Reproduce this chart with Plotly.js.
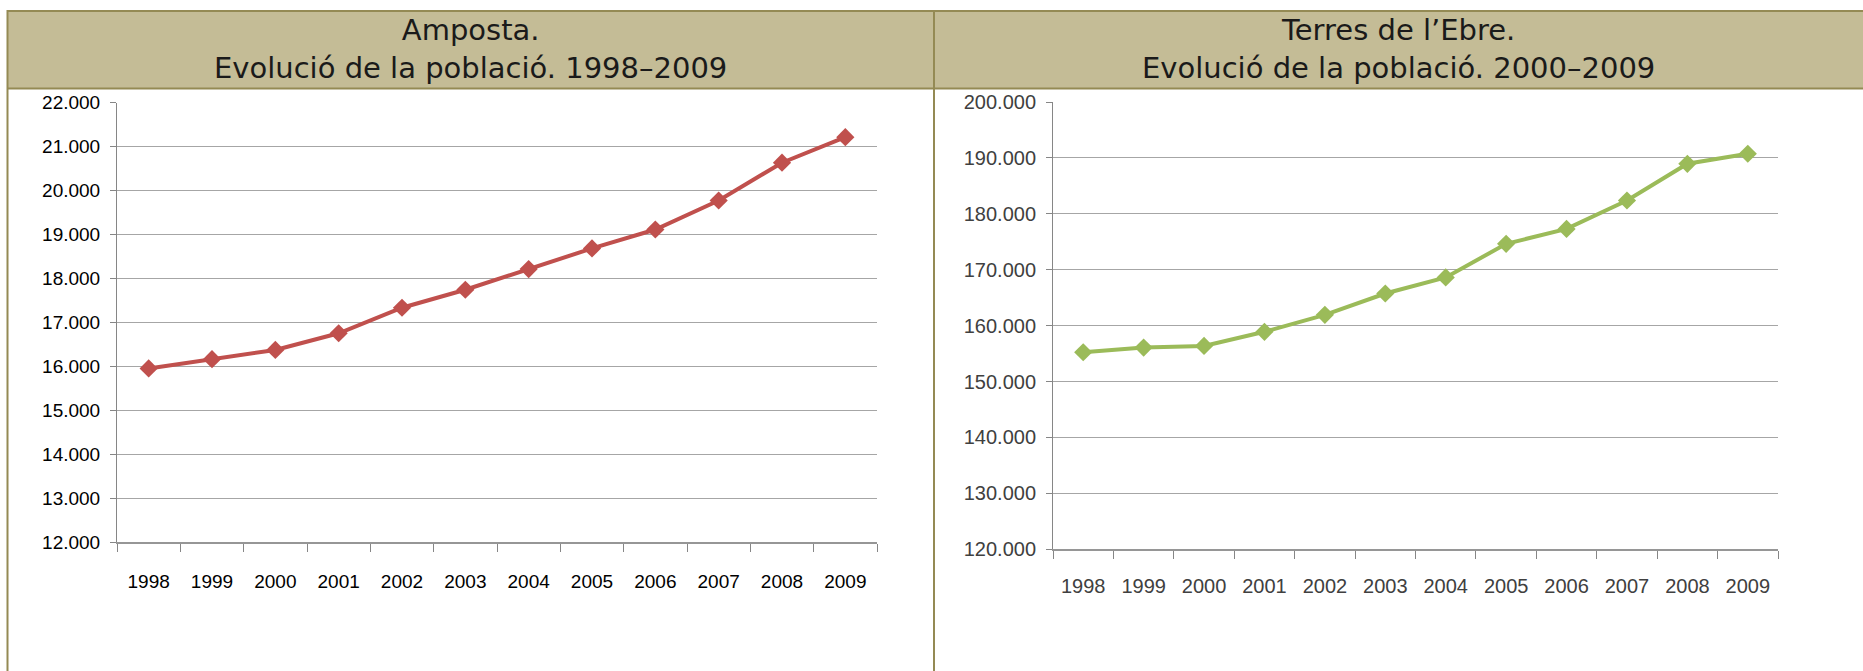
<!DOCTYPE html>
<html>
<head>
<meta charset="utf-8">
<script src="https://cdn.plot.ly/plotly-3.0.1.min.js"></script>
<style>
  html, body { margin: 0; padding: 0; background: #ffffff; }
  #chart { width: 1863px; height: 671px; }
</style>
</head>
<body>
<div id="chart"></div>
<script>
// ---- Data ----
const years = ["1998", "1999", "2000", "2001", "2002", "2003", "2004", "2005", "2006", "2007", "2008", "2009"];
const ampostaPop = [15950, 16160, 16370, 16750, 17330, 17740, 18210, 18680, 19110, 19770, 20630, 21210];
const terresEbrePop = [155240, 156070, 156370, 158900, 161930, 165750, 168620, 174630, 177300, 182380, 188950, 190740];
const titleLeft = "Amposta.<br>Evolució de la població. 1998–2009";
const titleRight = "Terres de l’Ebre.<br>Evolució de la població. 2000–2009";

// ---- Geometry helpers (pixel -> paper) ----
const W = 1863, H = 671;
const px = v => v / W;
const py = v => 1 - v / H;

const BORDER = "#948A54";
const HEADER_FILL = "#C4BC96";

const traces = [
  {
    x: years, y: ampostaPop, xaxis: "x", yaxis: "y",
    type: "scatter", mode: "lines+markers",
    line: { color: "#C0504D", width: 4 },
    marker: { symbol: "diamond", size: 14, color: "#C0504D" },
    hoverinfo: "x+y", showlegend: false
  },
  {
    x: years, y: terresEbrePop, xaxis: "x2", yaxis: "y2",
    type: "scatter", mode: "lines+markers",
    line: { color: "#9BBB59", width: 4 },
    marker: { symbol: "diamond", size: 14, color: "#9BBB59" },
    hoverinfo: "x+y", showlegend: false
  }
];

const xCommon = {
  type: "category", tickson: "boundaries", ticks: "outside", ticklen: 8,
  tickcolor: "#868686", showline: true, linecolor: "#969696", linewidth: 2,
  showgrid: false, zeroline: false, range: [-0.5, 11.5], fixedrange: true
};
const yCommon = {
  ticks: "outside", ticklen: 6, tickcolor: "#868686", showline: true,
  linecolor: "#868686", linewidth: 1, gridcolor: "#A6A6A6", gridwidth: 1,
  zeroline: false, tickformat: ",d", fixedrange: true, ticklabelstandoff: 6
};

const layout = {
  width: W, height: H, autosize: false,
  margin: { l: 0, r: 0, t: 0, b: 0, pad: 0 },
  paper_bgcolor: "#ffffff", plot_bgcolor: "#ffffff",
  separators: ",.",
  showlegend: false,
  xaxis: Object.assign({}, xCommon, {
    domain: [px(117), px(877)], anchor: "y", ticklabelstandoff: 21,
    tickfont: { family: "Liberation Sans, Arial, sans-serif", size: 19, color: "#000000" }
  }),
  yaxis: Object.assign({}, yCommon, {
    domain: [py(542), py(102.5)], anchor: "x",
    range: [12000, 22000], dtick: 1000,
    tickfont: { family: "Liberation Sans, Arial, sans-serif", size: 19, color: "#000000" }
  }),
  xaxis2: Object.assign({}, xCommon, {
    domain: [px(1053), px(1778)], anchor: "y2", ticklabelstandoff: 18,
    tickfont: { family: "Liberation Sans, Arial, sans-serif", size: 20, color: "#404040" }
  }),
  yaxis2: Object.assign({}, yCommon, {
    domain: [py(549.3), py(102)], anchor: "x2",
    range: [120000, 200000], dtick: 10000,
    tickfont: { family: "Liberation Sans, Arial, sans-serif", size: 20, color: "#404040" }
  }),
  shapes: [
    // header band
    { type: "rect", xref: "paper", yref: "paper", layer: "below",
      x0: px(7), x1: px(W + 10), y0: py(89), y1: py(10),
      fillcolor: HEADER_FILL, line: { width: 0 } },
    // header top border
    { type: "line", xref: "paper", yref: "paper",
      x0: px(7), x1: px(W + 10), y0: py(11), y1: py(11),
      line: { color: BORDER, width: 2 } },
    // header bottom border
    { type: "line", xref: "paper", yref: "paper",
      x0: px(7), x1: px(W + 10), y0: py(88.5), y1: py(88.5),
      line: { color: BORDER, width: 2 } },
    // left border
    { type: "line", xref: "paper", yref: "paper",
      x0: px(7.5), x1: px(7.5), y0: py(10), y1: py(H + 5),
      line: { color: BORDER, width: 2 } },
    // middle divider
    { type: "line", xref: "paper", yref: "paper",
      x0: px(934), x1: px(934), y0: py(10), y1: py(H + 5),
      line: { color: BORDER, width: 2 } }
  ],
  annotations: [
    { text: titleLeft, xref: "paper", yref: "paper", x: px(470.5), y: py(49),
      xanchor: "center", yanchor: "middle", showarrow: false, align: "center",
      font: { family: "DejaVu Sans, Verdana, sans-serif", size: 29, color: "#1a1a1a" } },
    { text: titleRight, xref: "paper", yref: "paper", x: px(1398.5), y: py(49),
      xanchor: "center", yanchor: "middle", showarrow: false, align: "center",
      font: { family: "DejaVu Sans, Verdana, sans-serif", size: 29, color: "#1a1a1a" } }
  ]
};

Plotly.newPlot("chart", traces, layout, { displayModeBar: false, staticPlot: true });
</script>
</body>
</html>
